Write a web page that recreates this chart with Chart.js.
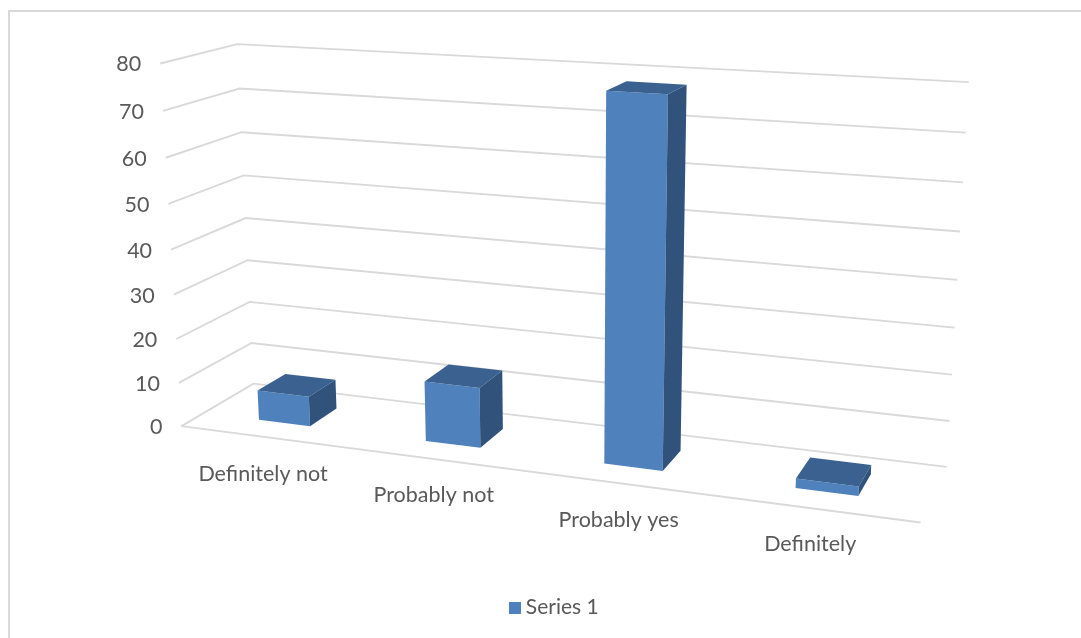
<!DOCTYPE html>
<html>
<head>
<meta charset="utf-8">
<style>
  html, body { margin: 0; padding: 0; background: #fff; overflow: hidden; }
  #frame { position: absolute; left: 8px; top: 10px; width: 1093px; height: 626px;
           border-left: 2px solid #d9d9d9; border-top: 2px solid #d9d9d9; }
  canvas { display: block; }
</style>
<script src="https://cdn.jsdelivr.net/npm/chart.js@4/dist/chart.umd.min.js"></script>
</head>
<body>
<div id="frame"><canvas id="chart" width="1093" height="626"></canvas></div>
<script>
// Chart data
const categories = ['Definitely not', 'Probably not', 'Probably yes', 'Definitely'];
const seriesName = 'Series 1';
const seriesValues = [6.8, 13.4, 78, 2];
const axisMax = 80;
const axisStep = 10;

// Colours
const frontColor = '#4f81bd';
const sideColor = '#30527b';
const topColor = '#3a6190';
const gridColor = '#d9d9d9';
const textColor = '#595959';
const labelFont = '21.5px Lato, Carlito, sans-serif';

// Depth the bars occupy on the floor, as a fraction of the box depth
const barDepth = [0.3, 0.7];

// Small per-label offsets for the category text, in pixels
const categoryLabelShift = [[0, 0], [-1, -1], [0, 0], [-6, -2]];

// Camera anchors: box coordinates [u, v, w] and where they land on the page
const anchors = [
  [0, 0, 0, 181.3, 425.7], [0, 0, 0.5, 171, 250.3], [0, 0, 1, 160.3, 63.3],
  [0, 1, 0, 253.3, 383.3], [0, 1, 0.5, 246, 218.7], [0, 1, 1, 237.3, 43.7],
  [1, 1, 0, 946.7, 467],   [1, 1, 0.5, 957.5, 280],   [1, 1, 1, 968.3, 82],
  [1, 0, 0, 920.7, 522.3]
];

// Solve the 3x4 projective camera from the anchors by least squares
function solveCamera(points) {
  const rows = [], rhs = [];
  for (const [X, Y, Z, px, py] of points) {
    const x = px / 1000, y = py / 1000;
    rows.push([X, Y, Z, 1, 0, 0, 0, 0, -x * X, -x * Y, -x * Z]); rhs.push(x);
    rows.push([0, 0, 0, 0, X, Y, Z, 1, -y * X, -y * Y, -y * Z]); rhs.push(y);
  }
  const n = 11;
  const A = Array.from({ length: n }, () => new Array(n + 1).fill(0));
  rows.forEach((r, k) => {
    for (let i = 0; i < n; i++) {
      for (let j = 0; j < n; j++) A[i][j] += r[i] * r[j];
      A[i][n] += r[i] * rhs[k];
    }
  });
  for (let c = 0; c < n; c++) {
    let best = c;
    for (let r = c + 1; r < n; r++) if (Math.abs(A[r][c]) > Math.abs(A[best][c])) best = r;
    [A[c], A[best]] = [A[best], A[c]];
    for (let r = 0; r < n; r++) {
      if (r === c) continue;
      const f = A[r][c] / A[c][c];
      for (let k = c; k <= n; k++) A[r][k] -= f * A[c][k];
    }
  }
  return A.map((row, i) => row[n] / row[i]);
}
const cam = solveCamera(anchors);
function project(u, v, w) {
  const d = cam[8] * u + cam[9] * v + cam[10] * w + 1;
  return {
    x: 1000 * (cam[0] * u + cam[1] * v + cam[2] * w + cam[3]) / d,
    y: 1000 * (cam[4] * u + cam[5] * v + cam[6] * w + cam[7]) / d
  };
}

function polyline(ctx, pts) {
  ctx.beginPath();
  pts.forEach((p, i) => (i ? ctx.lineTo(p.x, p.y) : ctx.moveTo(p.x, p.y)));
}
function face(ctx, color, pts) {
  polyline(ctx, pts);
  ctx.closePath();
  ctx.fillStyle = color;
  ctx.fill();
}

// Draws the box walls, axis text and extruded bars through the chart's scales
const perspectiveBars = {
  id: 'perspectiveBars',
  beforeDatasetsDraw(chart) {
    const { ctx, scales: { x: xs, y: ys } } = chart;
    const offset = ctx.canvas.getBoundingClientRect();
    const toU = px => (px - xs.left) / xs.width;
    const toW = px => (ys.bottom - px) / ys.height;

    ctx.save();
    ctx.translate(-offset.left, -offset.top);

    // Gridlines on the side wall and back wall, plus the front floor edge
    ctx.strokeStyle = gridColor;
    ctx.lineWidth = 1.9;
    ys.ticks.forEach(t => {
      const w = toW(ys.getPixelForValue(t.value));
      polyline(ctx, [project(0, 0, w), project(0, 1, w), project(1, 1, w)]);
      ctx.stroke();
    });
    polyline(ctx, [project(0, 0, 0), project(1, 0, 0)]);
    ctx.stroke();

    // Value labels beside the side wall
    ctx.fillStyle = textColor;
    ctx.font = labelFont;
    ctx.textAlign = 'right';
    ctx.textBaseline = 'middle';
    ys.ticks.forEach(t => {
      const p = project(0, 0, toW(ys.getPixelForValue(t.value)));
      ctx.fillText(t.label, p.x - 19, p.y + 1);
    });

    // Category labels below the front floor edge
    ctx.textAlign = 'center';
    categories.forEach((c, i) => {
      const p = project(toU(xs.getPixelForValue(i)), 0, 0);
      const [dx, dy] = categoryLabelShift[i];
      ctx.fillText(c, p.x + dx, p.y + 37 + dy);
    });

    // Front, top and right faces of each bar
    const [v0, v1] = barDepth;
    chart.getDatasetMeta(0).data.forEach(el => {
      const u0 = toU(el.x - el.width / 2), u1 = toU(el.x + el.width / 2);
      const w = toW(el.y);
      face(ctx, frontColor, [project(u0, v0, 0), project(u1, v0, 0), project(u1, v0, w), project(u0, v0, w)]);
      face(ctx, topColor, [project(u0, v0, w), project(u1, v0, w), project(u1, v1, w), project(u0, v1, w)]);
      face(ctx, sideColor, [project(u1, v0, 0), project(u1, v1, 0), project(u1, v1, w), project(u1, v0, w)]);
    });

    ctx.restore();
    return false;
  }
};

// Square legend marker with the text sitting close beside it
const swatch = document.createElement('canvas');
swatch.width = swatch.height = 12;
const swatchCtx = swatch.getContext('2d');
swatchCtx.fillStyle = frontColor;
swatchCtx.fillRect(0, 0, 12, 12);

new Chart(document.getElementById('chart'), {
  type: 'bar',
  data: {
    labels: categories,
    datasets: [{
      label: seriesName,
      data: seriesValues,
      backgroundColor: frontColor,
      barPercentage: 1,
      categoryPercentage: 0.313
    }]
  },
  options: {
    responsive: false,
    animation: false,
    layout: { padding: { bottom: 10 } },
    scales: {
      x: { display: false },
      y: { display: false, min: 0, max: axisMax, ticks: { stepSize: axisStep } }
    },
    plugins: {
      tooltip: { enabled: false },
      legend: {
        position: 'bottom',
        labels: {
          usePointStyle: true,
          pointStyle: swatch,
          pointStyleWidth: 1,
          boxHeight: 12,
          color: textColor,
          font: { family: 'Lato, Carlito, sans-serif', size: 21 }
        }
      }
    }
  },
  plugins: [perspectiveBars]
});
</script>
</body>
</html>
